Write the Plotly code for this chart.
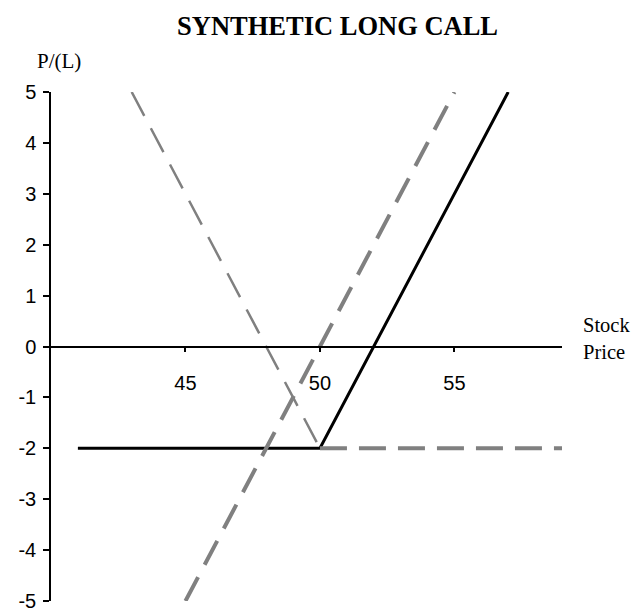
import plotly.graph_objects as go

# Payoff at expiry for a synthetic long call (long stock + long put, strike 50)
call_x = [41, 50, 57]
call_y = [-2, -2, 5]

stock_x = [45, 55]
stock_y = [-5, 5]

put_slope_x = [43, 50]
put_slope_y = [5, -2]
put_flat_x = [50, 59]
put_flat_y = [-2, -2]

x_ticks = [45, 50, 55]
y_ticks = [-5, -4, -3, -2, -1, 0, 1, 2, 3, 4, 5]
y_tick_text = [str(v) for v in y_ticks]

GRAY = "#808080"
SANS = "Liberation Sans, Arial, sans-serif"
SERIF = "Liberation Serif, Times New Roman, serif"

PLOT_LEFT = 51
PLOT_WIDTH = 639 - 51 - 77

fig = go.Figure()

fig.add_trace(go.Scatter(x=call_x, y=call_y, mode="lines",
                         line=dict(color="black", width=3)))
fig.add_trace(go.Scatter(x=put_slope_x, y=put_slope_y, mode="lines",
                         line=dict(color=GRAY, width=2.5, dash="27px,14px")))
fig.add_trace(go.Scatter(x=put_flat_x, y=put_flat_y, mode="lines",
                         line=dict(color=GRAY, width=4, dash="27px,12px")))
fig.add_trace(go.Scatter(x=stock_x, y=stock_y, mode="lines",
                         line=dict(color=GRAY, width=4, dash="27px,14px")))

fig.update_layout(
    width=639, height=611,
    margin=dict(l=PLOT_LEFT, r=77, t=92, b=10),
    paper_bgcolor="white", plot_bgcolor="white",
    showlegend=False,
    xaxis=dict(range=[40, 59], anchor="free", position=0.5, automargin=False,
               showline=True, linecolor="black", linewidth=1.5,
               ticks="outside", ticklen=5, tickwidth=1.5, tickcolor="black",
               tickvals=x_ticks, showgrid=False, zeroline=False,
               ticklabelstandoff=14,
               tickfont=dict(family=SANS, size=20, color="black")),
    yaxis=dict(range=[-5, 5], automargin=False,
               showline=True, linecolor="black", linewidth=1.5,
               ticks="outside", ticklen=6, tickwidth=1.5, tickcolor="black",
               tickvals=y_ticks, ticktext=y_tick_text,
               showgrid=False, zeroline=False, ticklabeloverflow="allow",
               ticklabelstandoff=3,
               tickfont=dict(family=SANS, size=20, color="black")),
    annotations=[
        dict(text="<b>SYNTHETIC LONG CALL</b>", xref="paper", yref="paper",
             x=(337 - PLOT_LEFT) / PLOT_WIDTH, y=1, yshift=66,
             xanchor="center", yanchor="middle",
             showarrow=False, font=dict(family=SERIF, size=26.5, color="black")),
        dict(text="P/(L)", xref="paper", yref="paper",
             x=(59 - PLOT_LEFT) / PLOT_WIDTH, y=1, yshift=31,
             xanchor="center", yanchor="middle",
             showarrow=False, font=dict(family=SERIF, size=21, color="black")),
        dict(text="Stock<br>Price", xref="paper", yref="paper",
             x=1, y=0.5, xshift=19, yshift=8, xanchor="left", yanchor="middle",
             align="left", showarrow=False,
             font=dict(family=SERIF, size=20.5, color="black")),
    ],
)

fig.write_html("out.html")
